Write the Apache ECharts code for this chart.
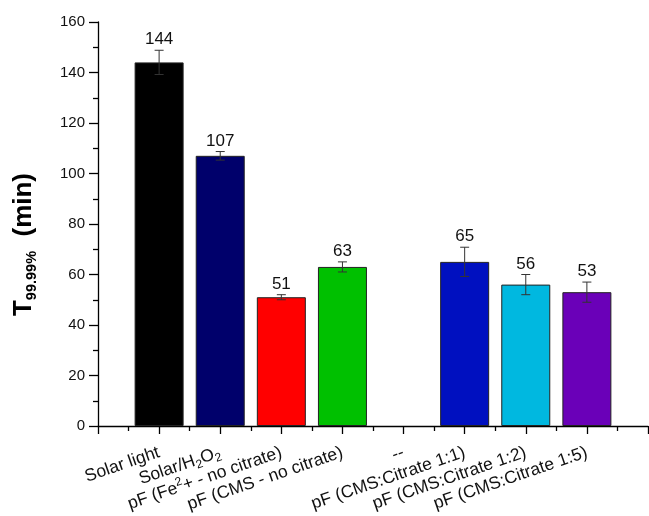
<!DOCTYPE html>
<html>
<head>
<meta charset="utf-8">
<script src="https://cdn.jsdelivr.net/npm/echarts@6/dist/echarts.min.js"></script>
<style>html,body{margin:0;padding:0;background:#fff}#c{width:649px;height:516px}</style>
</head>
<body>
<div id="c"></div>
<script>
// ---- data ----
var categories = [
  'Solar light',
  'Solar/H{sub|2}O{sub|2}',
  'pF (Fe{sup|2}+ - no citrate)',
  'pF (CMS - no citrate)',
  '--',
  'pF (CMS:Citrate 1:1)',
  'pF (CMS:Citrate 1:2)',
  'pF (CMS:Citrate 1:5)'
];
var values = [144, 107, 51, 63, null, 65, 56, 53];
var errors = [4.8, 1.7, 1, 2, null, 5.8, 4, 4];
var barColors = ['#000000', '#00006b', '#ff0000', '#00c000', null, '#0010c0', '#00b8e0', '#6a00b8'];
var yTicks = [0, 20, 40, 60, 80, 100, 120, 140, 160];

var FONT = '"Liberation Sans", Arial, sans-serif';

var barData = [];
var errData = [];
for (var i = 0; i < categories.length; i++) {
  if (values[i] == null) continue;
  barData.push({ value: [i + 1, values[i]], itemStyle: { color: barColors[i] } });
  errData.push([i + 1, values[i], errors[i]]);
}

var chart = echarts.init(document.getElementById('c'), null, { renderer: 'canvas' });
chart.setOption({
  animation: false,
  backgroundColor: '#ffffff',
  textStyle: { fontFamily: FONT },
  grid: { left: 98, right: 1, top: 22, bottom: 90, containLabel: false, outerBoundsMode: 'none' },
  xAxis: {
    type: 'value',
    min: 0, max: categories.length + 1, interval: 1,
    splitLine: { show: false },
    axisLine: { show: true, onZero: false, lineStyle: { color: '#000', width: 1.3 } },
    axisTick: { show: true, length: 8, lineStyle: { color: '#000', width: 1.3 } },
    minorTick: { show: true, splitNumber: 2, length: 5, lineStyle: { color: '#000', width: 1.3 } },
    axisLabel: {
      rotate: 19, fontSize: 17.5, color: '#111', margin: 26, fontFamily: FONT,
      formatter: function (v) {
        var k = Math.round(v) - 1;
        return (k >= 0 && k < categories.length) ? '{n|' + categories[k].replace(/\{(sub|sup)\|([^}]*)\}/g, '}{$1|$2}{n|') + '}' : '';
      },
      rich: {
        n: { fontSize: 17.5, lineHeight: 22, verticalAlign: 'middle', fontFamily: FONT, color: '#111' },
        sub: { fontSize: 12, lineHeight: 12, verticalAlign: 'bottom', fontFamily: FONT, color: '#111' },
        sup: { fontSize: 12, lineHeight: 12, verticalAlign: 'top', fontFamily: FONT, color: '#111' }
      }
    }
  },
  yAxis: {
    type: 'value',
    min: yTicks[0], max: yTicks[yTicks.length - 1], interval: yTicks[1] - yTicks[0],
    splitLine: { show: false },
    axisLine: { show: true, lineStyle: { color: '#000', width: 1.3 } },
    axisTick: { show: true, length: 9, lineStyle: { color: '#000', width: 1.3 } },
    minorTick: { show: true, splitNumber: 2, length: 5, lineStyle: { color: '#000', width: 1.3 } },
    axisLabel: { fontSize: 15, color: '#111', margin: 13, fontFamily: FONT },
    name: '{t|T}{s|99.99%}{t|  (min)}',
    nameLocation: 'middle',
    nameGap: 59,
    nameRotate: 90,
    nameTextStyle: {
      padding: [0, 41, 0, 0],
      rich: {
        t: { fontSize: 26, fontWeight: 'bold', color: '#000', fontFamily: FONT, lineHeight: 30, verticalAlign: 'middle' },
        s: { fontSize: 14.5, fontWeight: 'bold', color: '#000', fontFamily: FONT, lineHeight: 14, verticalAlign: 'bottom' }
      }
    }
  },
  series: [
    {
      type: 'bar',
      barWidth: 49,
      data: barData,
      itemStyle: { borderColor: '#222', borderWidth: 1 }
    },
    {
      type: 'custom',
      data: errData,
      encode: { x: 0, y: 1 },
      z: 5,
      renderItem: function (params, api) {
        var x = api.value(0), v = api.value(1), e = api.value(2);
        var top = api.coord([x, v + e]);
        var bot = api.coord([x, v - e]);
        var hw = 4.5;
        var st = { stroke: '#333', lineWidth: 1 };
        return {
          type: 'group',
          children: [
            { type: 'line', shape: { x1: top[0], y1: top[1], x2: bot[0], y2: bot[1] }, style: st },
            { type: 'line', shape: { x1: top[0] - hw, y1: top[1], x2: top[0] + hw, y2: top[1] }, style: st },
            { type: 'line', shape: { x1: bot[0] - hw, y1: bot[1], x2: bot[0] + hw, y2: bot[1] }, style: st },
            { type: 'text', x: top[0], y: top[1] - 2,
              style: { text: String(v), fontSize: 17, fontFamily: FONT, fill: '#111', align: 'center', verticalAlign: 'bottom' } }
          ]
        };
      }
    }
  ]
});
</script>
</body>
</html>
